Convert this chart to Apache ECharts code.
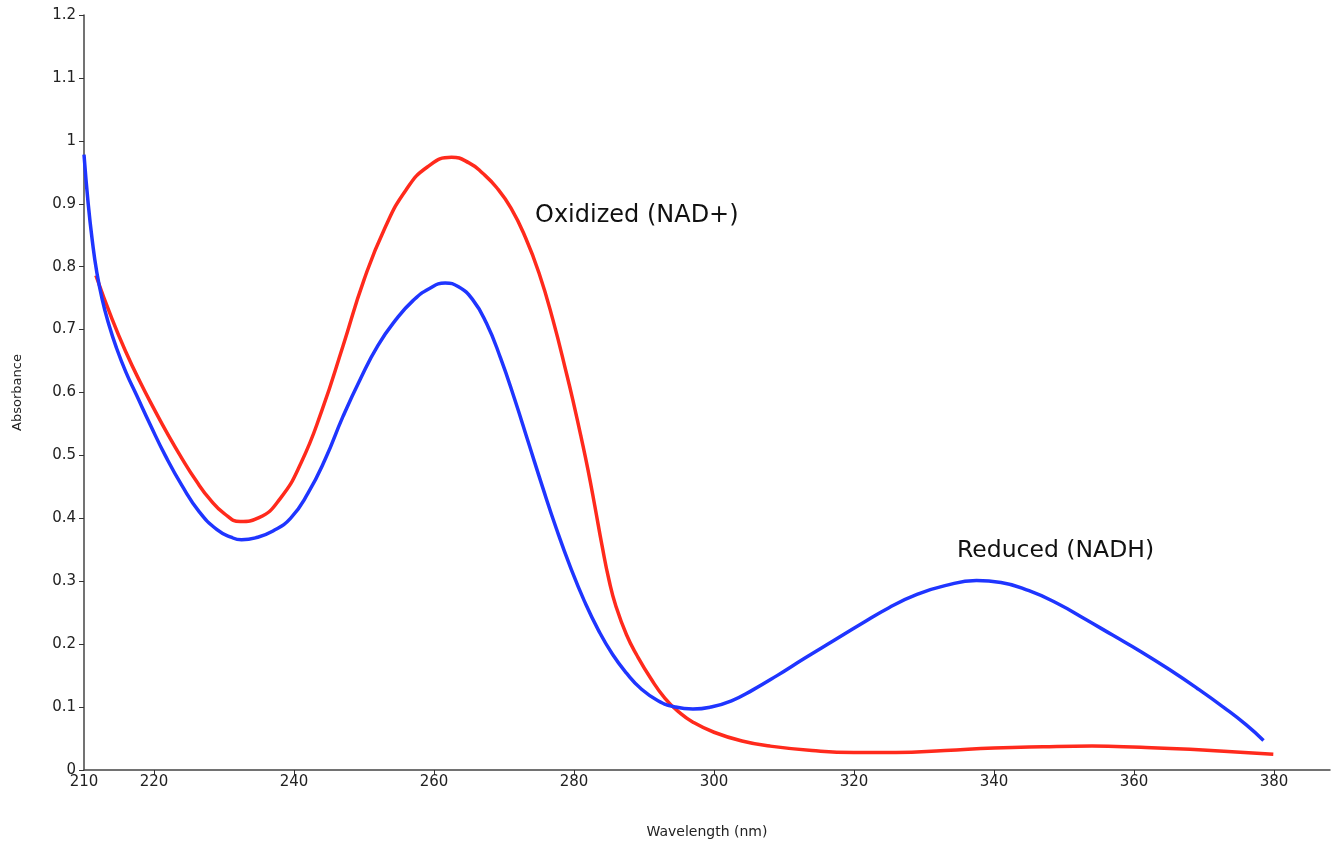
<!DOCTYPE html>
<html>
<head>
<meta charset="utf-8">
<title>NAD+ / NADH absorbance</title>
<script src="https://cdn.jsdelivr.net/npm/echarts@6/dist/echarts.min.js"></script>
<style>
  html, body { margin: 0; padding: 0; background: #fff; }
  #chart { width: 1332px; height: 844px; }
</style>
</head>
<body>
<div id="chart"></div>
<script>
// wavelength ticks shown on the x axis
const xLabels = [210, 220, 240, 260, 280, 300, 320, 340, 360, 380];
const xTicks = [220, 240, 260, 280, 300, 320, 340, 360, 380];

// Reduced (NADH) - blue
const reducedWl = [210, 210.6, 211.2, 211.8, 212.6, 213.5, 214.6, 216, 217.5, 219.5, 221.6, 224, 226.5, 229, 231, 232.5, 234.5, 237, 239.5, 242, 244.5, 247, 249.5, 252, 254.5, 257, 259.3, 261.6, 263.5, 265.5, 267.5, 269.5, 271.5, 273.5, 275.5, 277.5, 279.5, 281.5, 283.5, 285.5, 287.5, 289.5, 292, 294.5, 297, 299.5, 302.5, 305.5, 309, 313, 317, 321, 325, 329, 333, 337.5, 341, 345, 349, 353, 357, 361, 365, 369, 373, 376, 378.5];
const reducedAbs = [0.978, 0.90, 0.84, 0.793, 0.748, 0.71, 0.672, 0.632, 0.596, 0.548, 0.50, 0.452, 0.41, 0.382, 0.37, 0.366, 0.369, 0.38, 0.40, 0.44, 0.495, 0.562, 0.622, 0.675, 0.715, 0.746, 0.765, 0.774, 0.768, 0.748, 0.71, 0.655, 0.59, 0.52, 0.45, 0.383, 0.322, 0.268, 0.222, 0.184, 0.154, 0.13, 0.11, 0.10, 0.097, 0.10, 0.11, 0.127, 0.15, 0.178, 0.205, 0.232, 0.258, 0.279, 0.293, 0.301, 0.298, 0.285, 0.265, 0.24, 0.214, 0.188, 0.16, 0.13, 0.098, 0.072, 0.047];

// Oxidized (NAD+) - red
const oxidizedWl = [211.7, 214, 216, 218, 220, 222, 224, 226, 228, 230, 232.3, 235, 238, 241, 244, 247, 250, 253, 256, 259, 262.5, 265, 267, 269, 271, 273, 275, 277, 279, 280, 281, 282, 283, 284, 285, 286, 287.5, 289, 291, 293, 295, 297, 300, 304, 308, 314, 320, 326, 333, 340, 347, 354, 361, 368, 374, 379.9];
const oxidizedAbs = [0.786, 0.717, 0.664, 0.617, 0.574, 0.533, 0.495, 0.46, 0.43, 0.408, 0.395, 0.401, 0.431, 0.488, 0.572, 0.674, 0.779, 0.862, 0.922, 0.958, 0.974, 0.965, 0.948, 0.925, 0.893, 0.848, 0.79, 0.715, 0.627, 0.58, 0.53, 0.477, 0.418, 0.357, 0.302, 0.26, 0.215, 0.182, 0.145, 0.114, 0.092, 0.076, 0.06, 0.046, 0.038, 0.031, 0.028, 0.028, 0.031, 0.035, 0.037, 0.038, 0.036, 0.033, 0.029, 0.025];

const chart = echarts.init(document.getElementById('chart'));
const font = '"DejaVu Sans", "Open Sans", sans-serif';

const option = {
  animation: false,
  backgroundColor: '#fff',
  grid: { left: 84, right: 2, top: 15, bottom: 72 },
  xAxis: {
    type: 'value',
    min: 210,
    max: 388,
    name: 'Wavelength (nm)',
    nameLocation: 'middle',
    nameGap: 55,
    nameTextStyle: { fontFamily: font, fontSize: 14, color: '#222' },
    splitLine: { show: false },
    axisLine: { lineStyle: { color: '#444', width: 1.5 } },
    axisTick: { customValues: xTicks, length: 5, lineStyle: { color: '#333' } },
    axisLabel: {
      customValues: xLabels,
      fontFamily: font, fontSize: 15, color: '#222', margin: 5
    }
  },
  yAxis: {
    type: 'value',
    min: 0,
    max: 1.2,
    interval: 0.1,
    name: 'Absorbance',
    nameLocation: 'middle',
    nameGap: 60,
    nameRotate: 90,
    nameTextStyle: { fontFamily: font, fontSize: 13, color: '#222' },
    splitLine: { show: false },
    axisLine: { show: true, lineStyle: { color: '#444', width: 1.5 } },
    axisTick: { show: true, length: 5, lineStyle: { color: '#333' } },
    axisLabel: {
      fontFamily: font, fontSize: 15, color: '#222', margin: 8,
      formatter: v => String(+v.toFixed(1))
    }
  },
  series: [
    {
      name: 'Reduced (NADH)',
      type: 'line',
      data: reducedWl.map((w, i) => [w, reducedAbs[i]]),
      showSymbol: false,
      smooth: true,
      lineStyle: { color: '#1f35ff', width: 3.5 },
      z: 2
    },
    {
      name: 'Oxidized (NAD+)',
      type: 'line',
      data: oxidizedWl.map((w, i) => [w, oxidizedAbs[i]]),
      showSymbol: false,
      smooth: true,
      lineStyle: { color: '#ff2a1c', width: 3.5 },
      z: 1
    }
  ],
  graphic: [
    {
      type: 'text', left: 535, top: 204,
      style: { text: 'Oxidized (NAD+)', fontFamily: font, fontSize: 24, fill: '#111' }
    },
    {
      type: 'text', left: 957, top: 539,
      style: { text: 'Reduced (NADH)', fontFamily: font, fontSize: 23.5, fill: '#111' }
    }
  ]
};

chart.setOption(option);
</script>
</body>
</html>
